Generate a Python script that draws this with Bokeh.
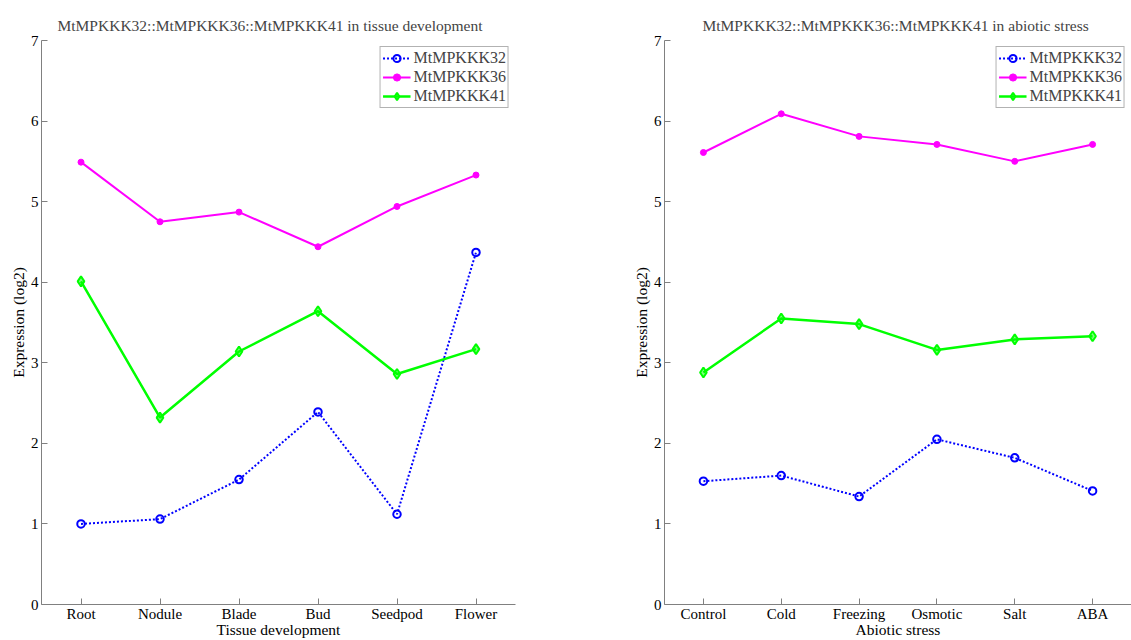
from bokeh.plotting import figure
from bokeh.layouts import row
from bokeh.models import Range1d, FactorRange, FixedTicker, Legend
from bokeh.embed import file_html
from bokeh.resources import INLINE

tissue = ["Root", "Nodule", "Blade", "Bud", "Seedpod", "Flower"]
t32 = [1.00, 1.06, 1.55, 2.39, 1.12, 4.37]
t36 = [5.49, 4.75, 4.87, 4.44, 4.94, 5.33]
t41 = [4.01, 2.32, 3.14, 3.64, 2.86, 3.17]

stress = ["Control", "Cold", "Freezing", "Osmotic", "Salt", "ABA"]
s32 = [1.53, 1.60, 1.34, 2.05, 1.82, 1.41]
s36 = [5.61, 6.09, 5.81, 5.71, 5.50, 5.71]
s41 = [2.88, 3.55, 3.48, 3.16, 3.29, 3.33]

yticks = [0, 1, 2, 3, 4, 5, 6, 7]
FONT = "Liberation Serif"
AXC = "#808080"


def make(cats, v32, v36, v41, title, xlabel, width, left_border, right_border, title_offset):
    p = figure(width=width, height=640, x_range=FactorRange(*cats, range_padding=0),
               y_range=Range1d(0, 7), output_backend="svg", toolbar_location=None,
               min_border_left=left_border, min_border_right=right_border,
               min_border_top=40, min_border_bottom=36)
    p.title.text = title
    p.title.text_font = FONT
    p.title.text_font_size = "15.5px"
    p.title.text_font_style = "normal"
    p.title.align = "left"
    p.title.offset = title_offset
    p.title.standoff = 14
    p.outline_line_color = None
    p.xgrid.visible = False
    p.ygrid.visible = False
    p.background_fill_color = "white"
    p.border_fill_color = "white"

    p.yaxis.ticker = FixedTicker(ticks=yticks)
    p.yaxis.axis_label = "Expression (log2)"
    p.xaxis.axis_label = xlabel
    for ax in (p.xaxis[0], p.yaxis[0]):
        ax.axis_line_color = AXC
        ax.major_tick_line_color = AXC
        ax.major_tick_in = 6
        ax.major_tick_out = 0
        ax.minor_tick_line_color = None
        ax.major_label_text_font = FONT
        ax.major_label_text_font_size = "15px"
        ax.major_label_text_color = "black"
        ax.axis_label_text_font = FONT
        ax.axis_label_text_font_size = "15.5px"
        ax.axis_label_text_font_style = "normal"
        ax.axis_label_text_color = "black"
    p.xaxis.major_label_standoff = 1
    p.xaxis.axis_label_standoff = -4
    p.yaxis.major_label_standoff = 3
    p.yaxis.axis_label_standoff = 1

    l32 = p.line(cats, v32, line_color="#0000FF", line_width=2, line_dash="2 2")
    m32 = p.scatter(cats, v32, marker="circle", size=7.5, line_color="#0000FF",
                    line_width=2, fill_color=None)
    l36 = p.line(cats, v36, line_color="#FF00FF", line_width=2)
    m36 = p.scatter(cats, v36, marker="circle", size=6, line_color="#FF00FF",
                    fill_color="#FF00FF")
    l41 = p.line(cats, v41, line_color="#00FF00", line_width=2.5)
    m41 = p.scatter(cats, v41, marker="diamond", size=10, line_color="#00FF00",
                    line_width=2, fill_color="#00FF00", fill_alpha=0.5)

    legend = Legend(items=[("MtMPKKK32", [l32, m32]), ("MtMPKKK36", [l36, m36]),
                           ("MtMPKKK41", [l41, m41])],
                    location="top_right")
    legend.label_text_font = FONT
    legend.label_text_font_size = "16px"
    legend.label_standoff = 3
    legend.glyph_width = 28
    legend.glyph_height = 18
    legend.label_height = 18
    legend.spacing = 1
    legend.padding = 2
    legend.margin = 6
    legend.border_line_color = "#666666"
    legend.background_fill_alpha = 1
    p.add_layout(legend)
    return p


p1 = make(tissue, t32, t36, t41,
          "MtMPKKK32::MtMPKKK36::MtMPKKK41 in tissue development",
          "Tissue development", 600, 41, 85, 16)
p2 = make(stress, s32, s36, s41,
          "MtMPKKK32::MtMPKKK36::MtMPKKK41 in abiotic stress",
          "Abiotic stress", 531, 64, 0, 38)

layout = row(p1, p2)
open("out.html", "w").write(file_html(layout, INLINE))
